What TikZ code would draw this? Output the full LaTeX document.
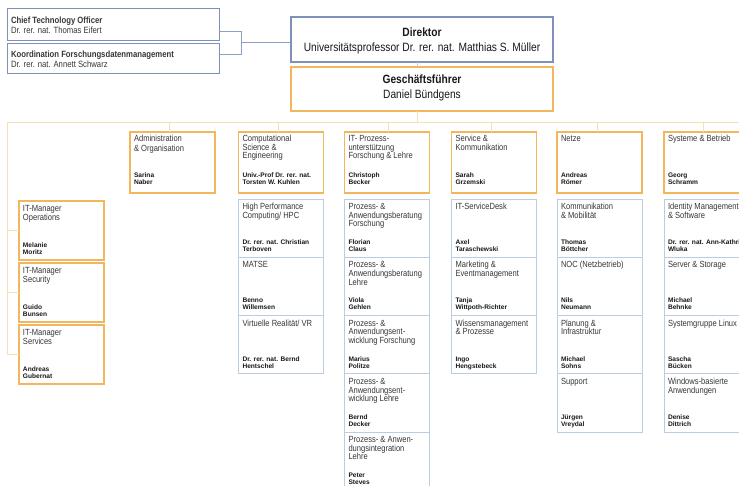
\documentclass[tikz,border=0pt]{standalone}
\usepackage{fontspec}
\setmainfont{Liberation Sans}[FakeStretch=0.85]
\newfontfamily\nmfam{Liberation Sans}
\usetikzlibrary{calc}
\definecolor{orng}{RGB}{242,182,92}
\definecolor{lorng}{RGB}{246,224,180}
\definecolor{dblu}{RGB}{125,145,185}
\definecolor{lblu}{RGB}{186,205,227}
\definecolor{brk}{RGB}{140,160,195}
\definecolor{dgc}{RGB}{210,205,195}
\definecolor{ttlc}{RGB}{55,55,55}
\definecolor{nmc}{RGB}{25,25,25}
% #1 height, #2 first baseline, #3 title leading, #4 title, #5 names, #6 bottom offset
\newcommand\cell[6]{\vbox to #1pt{\hsize=77pt\parindent=0pt\parskip=0pt\raggedright
  \hrule height0pt\prevdepth=0pt
  \fontsize{8.9}{#3}\selectfont\kern\dimexpr#2pt-#3pt\relax
  \textcolor{ttlc}{#4}\par\vfill
  \nmfam\bfseries\fontsize{6.6}{7.2}\selectfont\textcolor{nmc}{#5}\par\kern-\prevdepth\kern#6pt}}
\newcommand\hdr[3]{\cell{61}{9.5}{#1}{#2}{#3}{8.5}}
\newcommand\subc[2]{\cell{58.3}{10.5}{8.6}{#1}{#2}{5.6}}
\newcommand\mgr[2]{\cell{59}{11}{8.7}{#1}{#2}{5.7}}
% left two-line box: #1 w, #2 h, #3 first baseline, #4 bold line, #5 line
\newcommand\tlc[5]{\vbox to #2pt{\hsize=\dimexpr#1pt-8pt\relax\parindent=0pt\parskip=0pt\raggedright
  \hrule height0pt\prevdepth=0pt\fontsize{9.1}{10}\selectfont\kern\dimexpr#3pt-10pt\relax
  \textcolor{ttlc}{{\bfseries #4}\\#5}\par\vfill}}
% centred two-line box: #1 w, #2 h, #3 first baseline, #4 leading, #5 bold line, #6 line
\newcommand\ctc[6]{\vbox to #2pt{\hsize=\dimexpr#1pt-8pt\relax\parindent=0pt\parskip=0pt\centering
  \hrule height0pt\prevdepth=0pt\fontsize{12}{#4}\selectfont\kern\dimexpr#3pt-#4pt\relax
  \textcolor{nmc}{{\bfseries #5}\\#6}\par\vfill}}
\begin{document}
\begin{tikzpicture}[x=1pt,y=-1pt,
  base/.style={rectangle,inner sep=0pt,outer sep=0pt,anchor=north west},
  obox/.style={base,draw=orng,line width=1.4pt,minimum width=85pt},
  sbox/.style={base,draw=lblu,line width=0.9pt,minimum width=85pt,minimum height=58.3pt},
  tbox/.style={base,draw=dblu,line width=1pt},
  dbox/.style={base,draw=dblu,line width=1.5pt},
  gbox/.style={base,draw=orng,line width=1.5pt},
  conn/.style={draw=lorng,line width=1pt},
  brl/.style={draw=brk,line width=1pt},
  dgl/.style={draw=dgc,line width=1pt}]
\useasboundingbox[fill=white] (0,0) rectangle (739,486);

% top boxes
\node[tbox,minimum width=212pt,minimum height=32pt] (cto) at (7,9)
  {\tlc{212}{32}{15}{Chief Technology Officer}{Dr. rer. nat. Thomas Eifert}};
\node[tbox,minimum width=212pt,minimum height=30pt] (koord) at (7,44)
  {\tlc{212}{30}{13.3}{Koordination Forschungsdatenmanagement}{Dr. rer. nat. Annett Schwarz}};
\node[dbox,minimum width=262pt,minimum height=45pt] (dir) at (291,17)
  {\ctc{262}{45}{19.7}{15}{Direktor}{Universitätsprofessor Dr. rer. nat. Matthias S. Müller}};
\node[gbox,minimum width=262pt,minimum height=44pt] (gf) at (291,67)
  {\ctc{262}{44}{16.3}{15.7}{Geschäftsführer}{Daniel Bündgens}};

% bracket to Direktor
\coordinate (j) at (241,42.7);
\coordinate (ce) at ($(cto.south east)+(0,-9.7)$);
\coordinate (ke) at ($(koord.north east)+(0,10.3)$);
\draw[brl] (ce) -| (ke -| j) -- (ke);
\draw[brl] (j) -- (dir.west |- j);

% Direktor - Geschaeftsfuehrer - bus
\coordinate (dg) at (417,0);
\coordinate (bus) at (0,123);
\coordinate (lt) at (7,123);
\coordinate (br) at (745,123);
\draw[dgl] (dg |- dir.south) -- (dg |- gf.north);
\draw[conn] (dg |- gf.south) -- (dg |- bus);
\draw[conn] (lt) -- (br);

% column headers
\node[obox,minimum height=61pt] (adm) at (130,132)
  {\hdr{9.6}{Administration\\\& Organisation}{Sarina\\Naber}};
\node[obox,minimum height=61pt] (comp) at (238.5,132)
  {\hdr{8.6}{Computational\\Science \&\\Engineering}{Univ.-Prof Dr. rer. nat.\\Torsten W. Kuhlen}};
\node[obox,minimum height=61pt] (itp) at (344.5,132)
  {\hdr{8.6}{IT- Prozess-\\unterstützung\\Forschung \& Lehre}{Christoph\\Becker}};
\node[obox,minimum height=61pt] (svc) at (451.5,132)
  {\hdr{8.8}{Service \&\\Kommunikation}{Sarah\\Grzemski}};
\node[obox,minimum height=61pt] (net) at (557,132)
  {\hdr{8.8}{Netze}{Andreas\\Römer}};
\node[obox,minimum height=61pt] (sys) at (664,132)
  {\hdr{8.8}{Systeme \& Betrieb}{Georg\\Schramm}};

\foreach \b/\o in {adm/39,comp/39.5,itp/44,svc/39.5,net/40,sys/39.5}{
  \coordinate (t\b) at ($(\b.north west)+(\o,0)$);
  \draw[conn] (t\b |- bus) -- (t\b);
}

% IT-Manager column
\node[obox,minimum height=59pt] (m1) at (19,201) {\mgr{IT-Manager\\Operations}{Melanie\\Moritz}};
\node[obox,minimum height=59pt] (m2) at (19,263) {\mgr{IT-Manager\\Security}{Guido\\Bunsen}};
\node[obox,minimum height=59pt] (m3) at (19,325) {\mgr{IT-Manager\\Services}{Andreas\\Gubernat}};
\draw[conn] (lt) |- (m3.west);
\draw[conn] (m1.west -| lt) -- (m1.west);
\draw[conn] (m2.west -| lt) -- (m2.west);

% Computational Science & Engineering
\node[sbox] (c1) at (238.5,199) {\subc{High Performance\\Computing/ HPC}{Dr. rer. nat. Christian\\Terboven}};
\node[sbox] (c2) at (c1.south west) {\subc{MATSE}{Benno\\Willemsen}};
\node[sbox] (c3) at (c2.south west) {\subc{Virtuelle Realität/ VR}{Dr. rer. nat. Bernd\\Hentschel}};

% IT-Prozessunterstuetzung
\node[sbox] (i1) at (344.5,199) {\subc{Prozess- \&\\Anwendungsberatung\\Forschung}{Florian\\Claus}};
\node[sbox] (i2) at (i1.south west) {\subc{Prozess- \&\\Anwendungsberatung\\Lehre}{Viola\\Gehlen}};
\node[sbox] (i3) at (i2.south west) {\subc{Prozess- \&\\Anwendungsent-\\wicklung Forschung}{Marius\\Politze}};
\node[sbox] (i4) at (i3.south west) {\subc{Prozess- \&\\Anwendungsent-\\wicklung Lehre}{Bernd\\Decker}};
\node[sbox] (i5) at (i4.south west) {\subc{Prozess- \& Anwen-\\dungsintegration\\Lehre}{Peter\\Steves}};

% Service & Kommunikation
\node[sbox] (s1) at (451.5,199) {\subc{IT-ServiceDesk}{Axel\\Taraschewski}};
\node[sbox] (s2) at (s1.south west) {\subc{Marketing \&\\Eventmanagement}{Tanja\\Wittpoth-Richter}};
\node[sbox] (s3) at (s2.south west) {\subc{Wissensmanagement\\\& Prozesse}{Ingo\\Hengstebeck}};

% Netze
\node[sbox] (n1) at (557,199) {\subc{Kommunikation\\\& Mobilität}{Thomas\\Böttcher}};
\node[sbox] (n2) at (n1.south west) {\subc{NOC (Netzbetrieb)}{Nils\\Neumann}};
\node[sbox] (n3) at (n2.south west) {\subc{Planung \&\\Infrastruktur}{Michael\\Sohns}};
\node[sbox] (n4) at (n3.south west) {\subc{Support}{Jürgen\\Vreydal}};

% Systeme & Betrieb
\node[sbox] (y1) at (664,199) {\subc{Identity Management\\\& Software}{Dr. rer. nat. Ann-Kathrin\\Wluka}};
\node[sbox] (y2) at (y1.south west) {\subc{Server \& Storage}{Michael\\Behnke}};
\node[sbox] (y3) at (y2.south west) {\subc{Systemgruppe Linux}{Sascha\\Bücken}};
\node[sbox] (y4) at (y3.south west) {\subc{Windows-basierte\\Anwendungen}{Denise\\Dittrich}};
\end{tikzpicture}
\end{document}
